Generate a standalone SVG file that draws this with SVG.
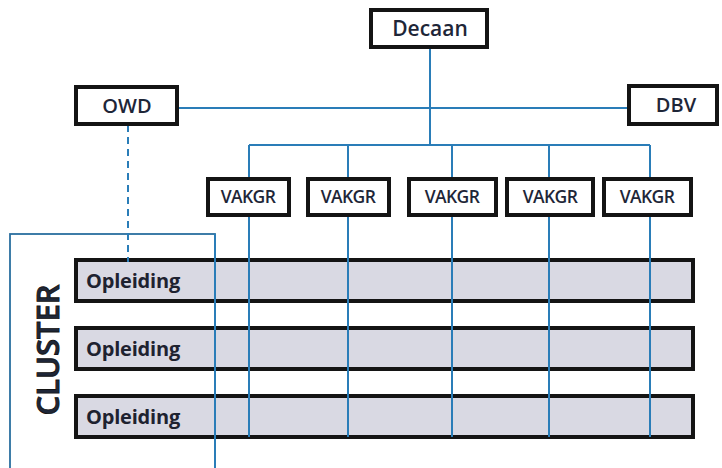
<svg xmlns="http://www.w3.org/2000/svg" width="722" height="468" viewBox="0 0 722 468">
<style>
.box{fill:#fff;stroke:#141414;stroke-width:4}
.bar{fill:#d9d9e3;stroke:#141414;stroke-width:4}
.ln{fill:none;stroke:#2a7db8;stroke-width:2}
.t{font-family:"Open Sans","Liberation Sans",sans-serif;font-weight:600;fill:#1e2638;text-anchor:middle}
.op{font-family:"Open Sans","Liberation Sans",sans-serif;font-weight:700;fill:#1e2230;font-size:20px;letter-spacing:-0.2px}
.vk{font-size:17.5px;letter-spacing:-0.6px}
</style>
<rect width="722" height="468" fill="#fff"/>
<g id="cluster">
<rect x="10" y="234" width="205" height="240" fill="none" stroke="#2a6f9f" stroke-width="1.8"/>
<text class="t" transform="translate(59,350) rotate(-90)" font-size="31" font-weight="700" fill="#141414" stroke="#141414" stroke-width="0.9">CLUSTER</text>
</g>
<g id="opleiding1"><rect class="bar" x="76" y="260" width="617" height="41"/><text class="op" x="86" y="288">Opleiding</text></g>
<g id="opleiding2"><rect class="bar" x="76" y="328" width="617" height="41"/><text class="op" x="86" y="356">Opleiding</text></g>
<g id="opleiding3"><rect class="bar" x="76" y="396" width="617" height="41"/><text class="op" x="86" y="424">Opleiding</text></g>
<g id="connectors">
<path class="ln" d="M430 48V145M178 108H630M249 145H650M249 145V437M348 145V437M452 145V437M549 145V437M650 145V437M215 234V468"/>
<path class="ln" d="M128 125V262" stroke-dasharray="7,5"/>
</g>
<g id="decaan"><rect class="box" x="371" y="10" width="116" height="37"/><text class="t" x="430" y="36" font-size="21">Decaan</text></g>
<g id="owd"><rect class="box" x="76" y="87" width="101" height="37"/><text class="t" x="127" y="113" font-size="20">OWD</text></g>
<g id="dbv"><rect class="box" x="629" y="86" width="88" height="38"/><text class="t" x="676" y="112" font-size="20">DBV</text></g>
<g id="vakgr1"><rect class="box" x="208" y="179" width="81" height="36"/><text class="t vk" x="248" y="203">VAKGR</text></g>
<g id="vakgr2"><rect class="box" x="308" y="179" width="81" height="36"/><text class="t vk" x="348" y="203">VAKGR</text></g>
<g id="vakgr3"><rect class="box" x="409" y="179" width="87" height="36"/><text class="t vk" x="452" y="203">VAKGR</text></g>
<g id="vakgr4"><rect class="box" x="507" y="179" width="86" height="36"/><text class="t vk" x="550" y="203">VAKGR</text></g>
<g id="vakgr5"><rect class="box" x="604" y="179" width="87" height="36"/><text class="t vk" x="647" y="203">VAKGR</text></g>
</svg>
